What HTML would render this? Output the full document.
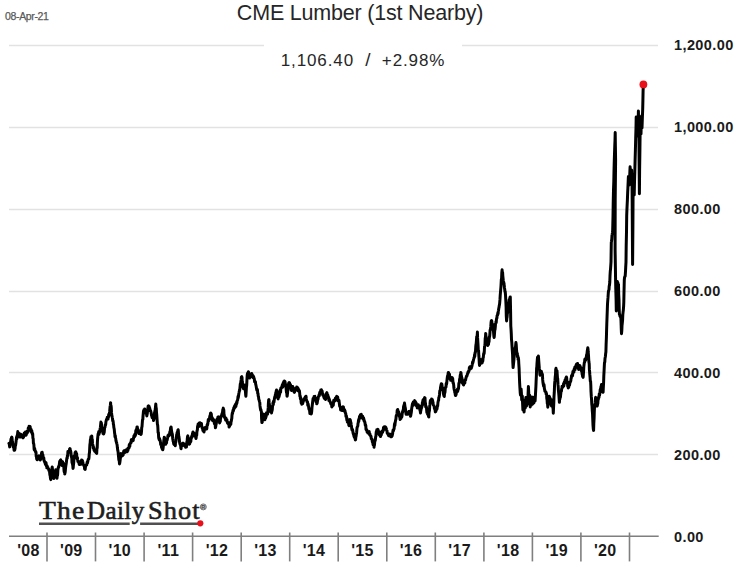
<!DOCTYPE html>
<html><head><meta charset="utf-8"><style>
html,body{margin:0;padding:0;background:#fff;}
body{width:739px;height:575px;position:relative;overflow:hidden;font-family:"Liberation Sans",sans-serif;}
.date{position:absolute;left:5px;top:9.6px;font-size:10.5px;color:#595959;letter-spacing:-0.35px;-webkit-text-stroke:0.25px #595959;}
.title{position:absolute;left:0;width:720px;text-align:center;top:1px;font-size:21.5px;letter-spacing:-0.2px;color:#262626;}
.sub{position:absolute;left:0;width:726px;text-align:center;top:49.5px;font-size:17px;line-height:20px;letter-spacing:0.9px;color:#262626;}
.yl{position:absolute;left:674px;font-size:14.5px;font-weight:bold;color:#1a1a1a;letter-spacing:0.4px;line-height:18px;}
.xl{position:absolute;top:541.5px;width:40px;text-align:center;font-size:16px;letter-spacing:0.3px;font-weight:bold;color:#1a1a1a;line-height:18px;}
.lw{position:absolute;top:495.5px;font-family:"Liberation Serif",serif;font-size:25px;font-weight:normal;-webkit-text-stroke:0.6px #1e1e1e;letter-spacing:1.1px;color:#1e1e1e;line-height:30px;white-space:nowrap;}
.reg{position:absolute;left:198px;top:500px;font-family:"Liberation Sans",sans-serif;font-size:10px;color:#777;}
svg{position:absolute;left:0;top:0;}
</style></head><body>
<svg width="739" height="575" viewBox="0 0 739 575">
<g stroke="#e2e2e2" stroke-width="1.4"><line x1="9" y1="127.5" x2="658" y2="127.5"/><line x1="9" y1="209.5" x2="658" y2="209.5"/><line x1="9" y1="291.5" x2="658" y2="291.5"/><line x1="9" y1="372.5" x2="658" y2="372.5"/><line x1="9" y1="454.5" x2="658" y2="454.5"/><line x1="9" y1="45.5" x2="264" y2="45.5"/><line x1="462" y1="45.5" x2="658" y2="45.5"/></g>
<g stroke="#7f7f7f" stroke-width="1.6"><line x1="9" y1="536.2" x2="658.7" y2="536.2"/><line x1="47.0" y1="532.5" x2="47.0" y2="561.4"/><line x1="95.5" y1="532.5" x2="95.5" y2="561.4"/><line x1="144.1" y1="532.5" x2="144.1" y2="561.4"/><line x1="192.6" y1="532.5" x2="192.6" y2="561.4"/><line x1="241.2" y1="532.5" x2="241.2" y2="561.4"/><line x1="289.7" y1="532.5" x2="289.7" y2="561.4"/><line x1="338.2" y1="532.5" x2="338.2" y2="561.4"/><line x1="386.8" y1="532.5" x2="386.8" y2="561.4"/><line x1="435.3" y1="532.5" x2="435.3" y2="561.4"/><line x1="483.9" y1="532.5" x2="483.9" y2="561.4"/><line x1="532.4" y1="532.5" x2="532.4" y2="561.4"/><line x1="580.9" y1="532.5" x2="580.9" y2="561.4"/><line x1="629.5" y1="532.5" x2="629.5" y2="561.4"/></g>
<path d="M9.0,443.4 L9.2,443.6 L9.5,445.9 L9.7,446.9 L10.0,445.2 L10.2,444.8 L10.5,443.7 L10.8,440.4 L11.0,439.0 L11.3,440.8 L11.5,437.5 L11.8,437.1 L12.0,437.7 L12.3,441.9 L12.5,441.5 L12.7,444.4 L13.0,444.6 L13.2,446.2 L13.4,447.4 L13.7,446.3 L13.9,448.7 L14.1,450.3 L14.4,449.7 L14.6,450.3 L14.8,449.8 L15.1,448.2 L15.3,444.6 L15.5,445.7 L15.8,443.7 L16.0,442.0 L16.3,439.8 L16.5,437.3 L16.8,438.9 L17.0,436.0 L17.3,435.4 L17.5,434.4 L17.8,431.6 L18.0,433.0 L18.3,434.3 L18.5,433.0 L18.8,435.0 L19.0,434.3 L19.3,436.7 L19.5,435.7 L19.8,437.0 L20.0,434.1 L20.3,434.1 L20.6,434.3 L20.8,436.9 L21.1,434.9 L21.3,435.5 L21.6,435.0 L21.8,434.8 L22.1,436.0 L22.3,436.0 L22.5,436.3 L22.8,437.6 L23.0,437.8 L23.3,437.1 L23.5,437.3 L23.8,435.6 L24.0,435.5 L24.3,433.0 L24.6,434.4 L24.8,434.9 L25.1,433.9 L25.4,432.1 L25.6,434.7 L25.9,435.2 L26.1,435.1 L26.4,433.7 L26.6,433.5 L26.9,433.5 L27.1,431.3 L27.3,433.0 L27.6,431.6 L27.8,430.9 L28.1,429.5 L28.3,428.0 L28.6,430.2 L28.8,430.1 L29.1,426.2 L29.3,428.1 L29.6,426.4 L29.8,426.8 L30.1,426.6 L30.3,427.9 L30.6,430.3 L30.8,431.5 L31.1,429.2 L31.3,431.6 L31.5,432.4 L31.8,430.7 L32.0,433.4 L32.2,432.4 L32.5,434.7 L32.7,433.7 L32.9,438.0 L33.2,438.8 L33.4,443.1 L33.6,443.2 L33.9,444.9 L34.1,449.0 L34.3,449.8 L34.6,448.2 L34.8,449.3 L35.0,450.5 L35.3,451.6 L35.5,451.7 L35.7,451.6 L36.0,452.4 L36.2,456.5 L36.4,455.7 L36.7,459.2 L36.9,458.7 L37.2,459.8 L37.4,457.6 L37.7,457.5 L38.0,457.4 L38.2,457.5 L38.5,456.9 L38.7,456.5 L39.0,455.9 L39.3,457.2 L39.5,459.1 L39.8,458.4 L40.0,458.9 L40.3,460.0 L40.5,459.5 L40.8,456.5 L41.0,455.5 L41.2,456.7 L41.5,453.7 L41.7,452.4 L41.9,453.4 L42.2,452.3 L42.4,454.5 L42.6,456.0 L42.9,454.8 L43.1,457.3 L43.3,458.4 L43.6,459.2 L43.8,457.8 L44.0,460.6 L44.3,460.7 L44.5,461.5 L44.8,462.7 L45.0,462.0 L45.3,463.8 L45.5,464.5 L45.8,462.4 L46.1,463.1 L46.3,465.8 L46.6,465.7 L46.8,467.8 L47.1,465.7 L47.3,466.9 L47.5,467.8 L47.8,467.3 L48.0,468.4 L48.2,468.4 L48.5,468.7 L48.7,469.3 L48.9,470.6 L49.2,470.0 L49.4,471.2 L49.6,472.2 L49.9,475.0 L50.1,473.7 L50.3,477.0 L50.6,479.0 L50.8,479.6 L51.0,476.8 L51.3,474.4 L51.5,474.4 L51.7,470.3 L52.0,468.0 L52.2,467.0 L52.4,468.6 L52.7,471.4 L52.9,471.2 L53.1,473.8 L53.4,475.7 L53.6,478.2 L53.9,478.4 L54.1,475.9 L54.4,476.3 L54.7,472.8 L54.9,472.4 L55.2,472.4 L55.4,472.2 L55.7,469.8 L56.0,471.3 L56.2,472.2 L56.5,473.5 L56.7,476.6 L57.0,478.2 L57.2,475.2 L57.5,475.6 L57.7,473.8 L57.9,469.6 L58.2,468.1 L58.4,467.0 L58.7,467.2 L58.9,465.8 L59.2,465.5 L59.5,462.9 L59.7,461.3 L60.0,461.0 L60.2,461.9 L60.5,460.0 L60.7,459.9 L61.0,460.9 L61.2,461.9 L61.4,462.6 L61.7,463.3 L61.9,464.3 L62.1,465.6 L62.4,462.6 L62.6,461.8 L62.8,465.0 L63.1,464.5 L63.3,462.9 L63.5,466.5 L63.8,466.4 L64.0,470.1 L64.2,471.8 L64.5,471.1 L64.7,474.0 L64.9,473.3 L65.2,472.0 L65.4,469.7 L65.6,467.6 L65.9,465.2 L66.1,464.3 L66.4,462.2 L66.6,460.2 L66.9,458.0 L67.2,458.3 L67.4,455.7 L67.7,456.0 L67.9,451.6 L68.2,451.7 L68.4,452.7 L68.7,451.5 L68.9,451.9 L69.1,451.3 L69.4,450.9 L69.6,449.0 L69.8,450.0 L70.1,448.6 L70.3,451.9 L70.5,450.6 L70.8,451.7 L71.0,453.1 L71.2,455.6 L71.5,457.0 L71.8,458.5 L72.0,462.3 L72.2,463.1 L72.5,464.0 L72.8,465.6 L73.0,468.4 L73.2,467.6 L73.5,464.2 L73.7,463.2 L73.9,459.5 L74.2,456.9 L74.4,455.9 L74.6,455.3 L74.9,455.6 L75.1,452.6 L75.3,454.2 L75.6,453.9 L75.8,451.7 L76.1,454.0 L76.3,455.3 L76.6,453.6 L76.8,457.1 L77.1,459.1 L77.4,457.4 L77.6,459.5 L77.9,461.5 L78.2,461.0 L78.4,462.3 L78.7,462.3 L79.0,462.9 L79.2,464.4 L79.5,462.0 L79.7,462.5 L80.0,464.5 L80.3,462.6 L80.5,462.1 L80.8,461.4 L81.0,464.2 L81.3,463.2 L81.6,459.9 L81.8,460.9 L82.1,460.4 L82.4,460.6 L82.6,461.4 L82.9,462.3 L83.1,464.2 L83.4,464.8 L83.6,464.8 L83.9,465.0 L84.1,466.3 L84.4,466.4 L84.6,468.8 L84.9,469.4 L85.2,469.4 L85.4,467.4 L85.7,465.6 L86.0,465.1 L86.2,465.1 L86.5,465.1 L86.7,465.0 L87.0,463.2 L87.2,462.1 L87.5,462.9 L87.8,461.5 L88.0,460.2 L88.2,459.2 L88.5,459.0 L88.8,459.0 L89.0,457.6 L89.2,454.3 L89.5,452.3 L89.7,448.4 L89.9,444.6 L90.2,442.6 L90.4,439.5 L90.6,439.6 L90.9,436.8 L91.1,437.5 L91.3,436.9 L91.6,438.0 L91.8,436.0 L92.0,439.6 L92.3,439.5 L92.5,443.4 L92.7,445.0 L93.0,445.1 L93.2,447.9 L93.5,448.1 L93.7,447.2 L94.0,450.1 L94.2,449.9 L94.5,451.0 L94.8,451.1 L95.0,451.0 L95.3,450.7 L95.5,452.0 L95.8,451.8 L96.0,450.6 L96.2,452.8 L96.5,451.2 L96.7,453.4 L96.9,448.9 L97.2,447.9 L97.4,442.1 L97.6,439.0 L97.9,435.8 L98.1,434.0 L98.3,435.1 L98.6,432.4 L98.8,431.6 L99.0,434.3 L99.3,431.5 L99.5,432.6 L99.7,432.1 L100.0,429.7 L100.2,428.6 L100.4,427.2 L100.7,424.1 L100.9,422.1 L101.1,424.5 L101.4,423.0 L101.6,426.9 L101.8,427.3 L102.1,429.3 L102.3,429.8 L102.5,429.1 L102.8,432.1 L103.0,433.5 L103.2,431.0 L103.5,432.7 L103.7,434.0 L104.0,432.8 L104.2,432.4 L104.5,428.9 L104.7,427.2 L105.0,427.0 L105.2,424.9 L105.5,425.1 L105.7,424.4 L105.9,422.0 L106.2,420.7 L106.4,420.0 L106.6,419.3 L106.9,418.8 L107.1,418.7 L107.3,417.2 L107.6,418.3 L107.8,418.0 L108.0,419.1 L108.3,416.5 L108.5,417.1 L108.7,414.4 L109.0,415.8 L109.2,414.5 L109.4,413.5 L109.7,411.2 L109.9,408.7 L110.1,406.6 L110.4,405.2 L110.6,402.7 L110.8,406.3 L111.1,405.8 L111.3,407.8 L111.5,412.4 L111.8,415.2 L112.0,415.9 L112.2,417.3 L112.5,418.5 L112.7,420.8 L112.9,420.3 L113.2,422.0 L113.4,424.2 L113.6,424.8 L113.9,427.8 L114.1,428.4 L114.3,429.8 L114.6,433.1 L114.8,434.0 L115.0,436.8 L115.3,435.6 L115.5,438.2 L115.7,438.3 L116.0,441.0 L116.2,440.9 L116.4,442.6 L116.7,442.9 L116.9,444.1 L117.1,444.8 L117.4,447.8 L117.6,449.3 L117.8,450.7 L118.1,451.8 L118.3,454.3 L118.5,456.1 L118.8,459.5 L119.0,460.4 L119.2,460.1 L119.5,464.0 L119.7,463.2 L120.0,461.2 L120.2,459.6 L120.5,457.2 L120.7,456.6 L121.0,453.4 L121.2,454.8 L121.5,454.1 L121.7,454.0 L121.9,455.1 L122.2,455.9 L122.4,454.8 L122.7,453.9 L122.9,454.6 L123.2,454.9 L123.5,452.6 L123.7,451.3 L124.0,450.8 L124.2,452.0 L124.5,450.7 L124.8,451.4 L125.0,452.5 L125.3,452.2 L125.5,450.1 L125.8,450.0 L126.1,450.3 L126.3,450.1 L126.6,451.3 L126.9,451.6 L127.1,451.7 L127.4,451.5 L127.6,448.7 L127.9,450.5 L128.2,448.1 L128.4,448.0 L128.7,447.9 L129.0,448.0 L129.2,445.0 L129.5,444.3 L129.8,446.3 L130.0,443.7 L130.3,443.2 L130.5,443.3 L130.8,442.3 L131.1,442.6 L131.3,439.8 L131.6,440.7 L131.9,440.7 L132.1,440.5 L132.4,439.2 L132.6,440.2 L132.9,439.5 L133.2,440.6 L133.4,438.1 L133.7,438.1 L133.9,436.0 L134.2,436.1 L134.5,436.9 L134.7,434.4 L135.0,435.3 L135.2,435.7 L135.5,434.7 L135.8,430.7 L136.0,432.7 L136.2,429.7 L136.5,430.1 L136.8,429.0 L137.0,427.0 L137.3,427.0 L137.5,429.0 L137.8,429.7 L138.1,430.9 L138.3,429.7 L138.6,432.1 L138.8,433.6 L139.1,432.6 L139.4,433.4 L139.6,433.1 L139.9,431.7 L140.1,433.3 L140.4,432.9 L140.7,434.4 L140.9,434.5 L141.2,434.0 L141.5,431.6 L141.7,427.6 L142.0,426.7 L142.2,424.0 L142.5,419.8 L142.8,419.7 L143.0,416.3 L143.3,413.1 L143.5,411.0 L143.8,413.3 L144.0,409.7 L144.2,409.7 L144.5,410.4 L144.7,408.9 L145.0,410.1 L145.2,410.8 L145.5,412.1 L145.8,412.2 L146.0,412.6 L146.3,413.0 L146.5,413.5 L146.8,415.9 L147.0,415.0 L147.3,413.5 L147.5,411.2 L147.7,410.2 L148.0,407.2 L148.2,406.1 L148.5,405.8 L148.7,406.7 L149.0,409.0 L149.2,406.6 L149.5,408.7 L149.8,408.3 L150.0,410.7 L150.3,410.3 L150.6,410.6 L150.8,411.4 L151.1,412.6 L151.3,413.9 L151.6,415.7 L151.8,415.0 L152.1,417.7 L152.3,417.3 L152.5,416.4 L152.8,417.4 L153.0,417.2 L153.2,417.7 L153.5,420.6 L153.7,420.0 L154.0,418.8 L154.2,414.9 L154.5,412.9 L154.8,411.7 L155.0,410.9 L155.3,409.1 L155.5,406.9 L155.8,404.0 L156.0,407.2 L156.3,408.5 L156.5,412.3 L156.7,414.5 L157.0,418.6 L157.2,421.4 L157.4,424.2 L157.7,425.4 L157.9,428.2 L158.1,432.6 L158.4,432.5 L158.6,436.7 L158.8,438.3 L159.1,439.2 L159.3,440.0 L159.5,438.5 L159.8,439.6 L160.0,440.0 L160.2,441.2 L160.5,442.4 L160.7,444.6 L160.9,444.5 L161.2,444.0 L161.4,445.7 L161.6,447.7 L161.9,447.0 L162.1,448.1 L162.3,449.2 L162.6,447.3 L162.8,449.8 L163.0,448.7 L163.3,446.2 L163.5,443.5 L163.7,441.6 L164.0,439.2 L164.2,437.3 L164.4,437.4 L164.7,439.7 L164.9,439.1 L165.1,442.0 L165.4,443.7 L165.6,444.3 L165.9,443.2 L166.1,442.8 L166.4,443.3 L166.6,442.2 L166.9,438.6 L167.2,440.1 L167.4,438.6 L167.7,437.3 L168.0,435.4 L168.2,436.2 L168.5,435.5 L168.7,434.7 L169.0,435.9 L169.3,434.9 L169.5,435.2 L169.8,431.9 L170.1,432.7 L170.3,431.0 L170.6,427.8 L170.8,429.3 L171.1,426.9 L171.3,428.8 L171.6,431.4 L171.8,432.2 L172.0,433.8 L172.3,433.8 L172.5,435.9 L172.7,438.4 L173.0,440.3 L173.2,441.4 L173.4,441.3 L173.7,443.8 L173.9,444.3 L174.1,444.5 L174.4,443.4 L174.6,443.4 L174.8,443.7 L175.1,444.4 L175.3,445.7 L175.5,442.6 L175.8,442.0 L176.0,440.8 L176.2,438.4 L176.5,436.1 L176.7,434.5 L176.9,434.2 L177.2,432.2 L177.4,432.0 L177.6,432.2 L177.9,430.1 L178.1,429.7 L178.3,430.5 L178.6,435.1 L178.8,436.4 L179.0,437.1 L179.3,439.1 L179.5,441.5 L179.7,442.8 L180.0,444.1 L180.2,444.0 L180.4,444.3 L180.7,446.2 L180.9,448.4 L181.1,448.7 L181.4,445.7 L181.6,446.2 L181.8,444.6 L182.1,443.9 L182.3,444.3 L182.6,443.3 L182.8,444.3 L183.1,443.6 L183.3,443.3 L183.6,443.8 L183.8,444.2 L184.1,445.5 L184.3,445.7 L184.6,444.3 L184.8,444.3 L185.1,446.0 L185.4,446.0 L185.6,447.2 L185.9,445.1 L186.1,446.5 L186.4,447.0 L186.6,444.8 L186.9,441.6 L187.1,443.1 L187.3,438.6 L187.6,436.3 L187.8,435.9 L188.0,437.2 L188.3,437.5 L188.5,440.5 L188.7,440.9 L189.0,441.5 L189.2,444.3 L189.5,442.0 L189.7,443.7 L190.0,441.4 L190.2,442.5 L190.5,440.7 L190.8,441.7 L191.0,438.7 L191.3,438.7 L191.5,436.9 L191.8,436.0 L192.0,437.0 L192.2,435.4 L192.5,433.5 L192.7,433.1 L193.0,432.0 L193.2,434.5 L193.5,435.8 L193.8,434.8 L194.0,433.1 L194.3,433.5 L194.5,434.1 L194.8,435.9 L195.0,434.9 L195.3,434.7 L195.5,435.0 L195.7,437.4 L196.0,438.5 L196.2,437.3 L196.4,434.4 L196.7,435.3 L196.9,431.7 L197.1,431.0 L197.4,429.6 L197.6,426.2 L197.8,427.6 L198.1,424.1 L198.3,424.8 L198.5,425.7 L198.8,426.6 L199.0,424.8 L199.2,423.1 L199.5,423.7 L199.8,425.5 L200.0,422.7 L200.2,423.5 L200.5,423.2 L200.8,424.2 L201.0,423.4 L201.2,425.6 L201.5,423.6 L201.7,426.4 L201.9,427.0 L202.2,428.1 L202.4,427.6 L202.6,428.5 L202.9,430.5 L203.1,429.2 L203.3,430.0 L203.6,430.0 L203.8,431.7 L204.0,432.0 L204.3,430.3 L204.5,428.8 L204.7,427.8 L205.0,429.1 L205.2,427.6 L205.4,428.2 L205.7,428.8 L205.9,427.9 L206.1,428.5 L206.4,427.5 L206.6,429.0 L206.8,428.6 L207.1,424.9 L207.3,425.4 L207.5,425.3 L207.8,423.8 L208.0,422.0 L208.3,419.7 L208.5,419.4 L208.8,420.8 L209.0,419.2 L209.3,419.3 L209.5,418.4 L209.8,416.1 L210.0,416.9 L210.3,415.5 L210.5,413.2 L210.8,413.0 L211.0,413.7 L211.3,413.8 L211.5,416.1 L211.7,419.2 L212.0,417.3 L212.2,419.9 L212.4,420.3 L212.7,418.7 L212.9,418.7 L213.1,420.9 L213.4,419.5 L213.6,420.6 L213.9,419.8 L214.1,420.9 L214.4,423.5 L214.6,424.1 L214.9,422.8 L215.2,424.4 L215.4,427.8 L215.7,426.9 L216.0,424.4 L216.2,424.0 L216.5,422.0 L216.7,421.8 L217.0,419.2 L217.2,419.3 L217.5,419.8 L217.7,418.6 L217.9,417.1 L218.2,416.9 L218.4,417.8 L218.6,417.0 L218.9,420.4 L219.1,418.5 L219.3,418.9 L219.6,423.0 L219.8,422.0 L220.0,420.0 L220.3,421.5 L220.5,417.7 L220.7,418.1 L221.0,416.3 L221.2,416.4 L221.5,416.5 L221.7,414.7 L222.0,413.8 L222.2,413.2 L222.5,412.6 L222.8,409.6 L223.0,409.5 L223.3,408.1 L223.5,409.5 L223.8,409.9 L224.0,414.2 L224.2,414.9 L224.5,417.3 L224.7,417.8 L224.9,417.1 L225.2,418.6 L225.4,418.7 L225.6,420.0 L225.9,418.0 L226.1,419.9 L226.4,419.8 L226.6,420.7 L226.9,419.7 L227.1,421.8 L227.4,422.9 L227.7,422.2 L227.9,423.5 L228.2,423.4 L228.4,424.2 L228.7,423.3 L228.9,424.3 L229.1,427.1 L229.4,425.1 L229.6,426.2 L229.8,425.3 L230.1,423.3 L230.3,423.1 L230.5,422.2 L230.8,424.3 L231.0,422.0 L231.3,421.0 L231.5,419.7 L231.8,418.4 L232.0,415.2 L232.3,413.0 L232.5,413.7 L232.8,411.5 L233.0,410.3 L233.2,411.3 L233.5,410.4 L233.7,408.1 L233.9,409.3 L234.2,407.1 L234.4,407.7 L234.6,405.9 L234.9,407.6 L235.1,405.3 L235.4,406.7 L235.6,404.2 L235.9,406.4 L236.1,403.5 L236.4,404.5 L236.7,402.0 L236.9,403.2 L237.2,400.6 L237.4,400.4 L237.7,399.8 L238.0,396.6 L238.2,398.1 L238.5,396.2 L238.8,393.8 L239.0,392.8 L239.3,391.0 L239.6,390.8 L239.8,389.3 L240.1,386.1 L240.3,383.8 L240.6,383.7 L240.9,381.2 L241.1,379.9 L241.4,376.9 L241.7,376.7 L242.0,377.3 L242.2,381.3 L242.5,383.0 L242.8,385.8 L243.0,387.7 L243.3,387.8 L243.5,388.7 L243.8,386.4 L244.0,385.2 L244.2,385.3 L244.5,385.3 L244.7,385.0 L244.9,387.3 L245.2,389.6 L245.4,391.2 L245.7,395.2 L245.9,396.2 L246.2,391.2 L246.4,387.7 L246.7,385.1 L246.9,380.6 L247.2,375.3 L247.4,373.9 L247.7,373.0 L247.9,374.3 L248.2,372.5 L248.4,371.7 L248.7,373.0 L248.9,375.4 L249.1,376.4 L249.4,376.0 L249.6,378.1 L249.8,375.8 L250.1,375.6 L250.3,377.0 L250.5,375.2 L250.8,376.3 L251.0,373.9 L251.2,375.4 L251.5,376.6 L251.7,373.6 L251.9,374.6 L252.2,374.5 L252.4,376.7 L252.6,376.7 L252.9,376.6 L253.1,375.8 L253.3,377.8 L253.6,376.4 L253.8,378.1 L254.1,378.3 L254.3,378.9 L254.6,381.8 L254.9,381.3 L255.1,381.5 L255.4,381.6 L255.6,383.9 L255.9,385.0 L256.2,386.5 L256.4,387.7 L256.7,389.6 L256.9,390.3 L257.2,389.3 L257.5,390.0 L257.7,393.3 L258.0,393.4 L258.2,396.0 L258.5,396.6 L258.8,399.3 L259.0,399.8 L259.2,400.4 L259.5,401.6 L259.8,402.6 L260.0,405.9 L260.2,407.3 L260.5,409.2 L260.7,410.2 L260.9,409.5 L261.2,411.2 L261.4,411.5 L261.6,418.6 L261.9,422.6 L262.2,422.3 L262.4,420.2 L262.7,418.1 L263.0,417.1 L263.2,414.5 L263.5,414.3 L263.7,414.1 L264.0,416.8 L264.2,418.8 L264.4,418.1 L264.7,418.6 L264.9,419.8 L265.1,418.4 L265.4,417.8 L265.6,418.1 L265.8,416.0 L266.1,416.9 L266.3,414.3 L266.5,412.8 L266.8,413.2 L267.0,413.7 L267.2,413.0 L267.5,414.4 L267.7,412.9 L267.9,410.8 L268.2,407.9 L268.4,403.4 L268.7,399.7 L268.9,399.5 L269.2,403.0 L269.4,404.4 L269.6,405.7 L269.9,406.4 L270.1,408.7 L270.3,410.2 L270.6,411.6 L270.8,409.4 L271.0,412.1 L271.3,411.7 L271.5,412.9 L271.8,411.3 L272.0,411.0 L272.3,409.5 L272.5,406.7 L272.8,404.5 L273.0,402.7 L273.3,404.6 L273.5,401.3 L273.7,401.3 L274.0,402.2 L274.2,400.3 L274.5,398.3 L274.8,396.7 L275.0,397.8 L275.3,394.8 L275.5,395.7 L275.8,392.7 L276.0,392.3 L276.2,391.2 L276.5,390.0 L276.7,390.6 L276.9,391.1 L277.2,395.1 L277.4,393.3 L277.6,395.2 L277.9,396.5 L278.1,399.0 L278.3,396.6 L278.6,397.3 L278.8,397.2 L279.1,396.6 L279.3,395.0 L279.6,394.7 L279.8,392.7 L280.1,390.2 L280.3,390.5 L280.6,392.3 L280.8,388.3 L281.1,388.4 L281.3,388.4 L281.6,387.8 L281.8,386.5 L282.1,387.0 L282.3,384.8 L282.5,385.0 L282.8,387.1 L283.0,385.0 L283.2,383.0 L283.5,385.1 L283.7,381.8 L283.9,384.0 L284.2,382.2 L284.4,380.9 L284.6,382.3 L284.9,381.4 L285.1,382.0 L285.3,385.5 L285.6,384.3 L285.8,386.4 L286.0,386.9 L286.3,390.8 L286.5,392.6 L286.7,391.3 L287.0,396.2 L287.2,396.2 L287.4,394.2 L287.7,391.6 L287.9,388.5 L288.1,387.5 L288.4,387.5 L288.6,383.7 L288.8,383.0 L289.1,382.6 L289.3,382.7 L289.5,382.8 L289.8,383.7 L290.0,384.3 L290.3,386.8 L290.5,384.7 L290.8,386.1 L291.0,389.8 L291.3,389.2 L291.5,390.5 L291.8,390.0 L292.0,386.9 L292.2,386.8 L292.5,388.5 L292.7,386.4 L292.9,387.3 L293.2,389.0 L293.4,388.5 L293.6,388.4 L293.9,390.5 L294.1,392.0 L294.4,392.4 L294.6,392.0 L294.9,390.7 L295.1,389.8 L295.4,389.5 L295.7,388.6 L295.9,388.4 L296.2,387.8 L296.5,389.2 L296.7,387.1 L297.0,388.7 L297.2,390.1 L297.5,389.9 L297.8,387.7 L298.0,390.7 L298.3,389.2 L298.5,391.1 L298.8,389.4 L299.0,390.5 L299.2,390.9 L299.5,391.1 L299.7,393.4 L299.9,396.5 L300.2,395.8 L300.4,398.9 L300.6,397.5 L300.9,398.6 L301.1,401.7 L301.3,403.3 L301.6,403.2 L301.8,404.2 L302.0,403.3 L302.3,403.0 L302.5,403.1 L302.7,403.6 L303.0,400.7 L303.2,401.8 L303.4,401.0 L303.7,399.5 L303.9,400.3 L304.2,400.1 L304.4,398.6 L304.7,398.8 L304.9,397.8 L305.2,397.1 L305.5,396.7 L305.7,397.1 L306.0,396.2 L306.3,399.0 L306.5,400.0 L306.8,400.8 L307.0,401.8 L307.3,401.7 L307.5,401.9 L307.8,405.3 L308.0,403.7 L308.2,404.1 L308.5,406.4 L308.7,407.3 L308.9,409.1 L309.2,408.6 L309.4,410.6 L309.6,410.2 L309.9,413.6 L310.1,412.9 L310.4,413.0 L310.6,413.4 L310.9,413.8 L311.2,414.0 L311.5,413.1 L311.7,411.3 L312.0,407.4 L312.3,404.9 L312.5,403.3 L312.8,400.6 L313.1,398.5 L313.3,399.3 L313.6,400.3 L313.9,399.5 L314.1,396.4 L314.4,398.7 L314.6,396.5 L314.9,396.4 L315.2,399.0 L315.4,397.7 L315.7,398.0 L315.9,400.1 L316.2,402.2 L316.5,401.4 L316.7,403.8 L317.0,403.4 L317.2,403.1 L317.5,400.8 L317.8,399.5 L318.0,399.2 L318.2,397.8 L318.5,396.6 L318.8,396.6 L319.0,395.0 L319.3,395.8 L319.5,394.3 L319.8,392.2 L320.1,391.9 L320.3,392.0 L320.6,392.3 L320.8,390.1 L321.1,390.9 L321.4,389.8 L321.6,391.1 L321.9,391.4 L322.1,390.9 L322.4,393.2 L322.7,395.0 L322.9,394.0 L323.2,394.3 L323.5,395.8 L323.7,396.7 L324.0,397.4 L324.2,398.2 L324.5,397.2 L324.8,398.6 L325.0,397.2 L325.3,399.2 L325.5,399.5 L325.8,396.7 L326.0,396.0 L326.2,396.5 L326.5,393.3 L326.7,393.0 L326.9,392.7 L327.2,395.8 L327.4,395.8 L327.6,394.7 L327.9,395.3 L328.1,397.8 L328.4,397.8 L328.6,397.1 L328.9,400.6 L329.1,398.8 L329.4,399.6 L329.7,400.5 L329.9,401.5 L330.2,402.0 L330.5,402.3 L330.7,403.5 L331.0,404.2 L331.2,403.9 L331.5,403.2 L331.8,406.9 L332.0,406.4 L332.3,406.2 L332.6,404.0 L332.8,404.6 L333.1,405.0 L333.3,405.2 L333.6,401.1 L333.8,400.2 L334.1,401.2 L334.3,400.6 L334.6,399.9 L334.8,401.1 L335.1,400.5 L335.4,398.2 L335.6,398.1 L335.9,398.3 L336.1,398.9 L336.4,397.1 L336.7,396.4 L336.9,397.4 L337.2,396.7 L337.4,399.0 L337.7,397.1 L338.0,400.8 L338.2,399.6 L338.5,399.9 L338.7,401.2 L339.0,400.5 L339.2,402.1 L339.4,404.0 L339.7,406.4 L339.9,406.2 L340.1,407.0 L340.4,406.8 L340.6,410.0 L340.8,409.5 L341.1,409.7 L341.3,410.3 L341.6,408.8 L341.8,408.7 L342.1,410.5 L342.4,407.3 L342.6,408.3 L342.9,408.2 L343.1,406.8 L343.4,406.9 L343.6,408.7 L343.9,410.0 L344.1,410.6 L344.3,411.0 L344.6,409.8 L344.8,411.7 L345.0,410.8 L345.3,412.9 L345.5,413.1 L345.7,413.4 L346.0,416.5 L346.2,415.9 L346.4,415.8 L346.7,418.9 L346.9,420.3 L347.1,418.3 L347.4,422.1 L347.6,421.5 L347.8,421.8 L348.1,421.9 L348.3,422.5 L348.5,422.6 L348.8,425.0 L349.0,425.7 L349.3,424.2 L349.5,424.7 L349.8,423.5 L350.0,419.6 L350.3,420.1 L350.5,421.1 L350.8,422.5 L351.0,423.1 L351.2,424.7 L351.5,426.2 L351.7,428.4 L352.0,430.0 L352.2,429.6 L352.5,429.6 L352.8,430.9 L353.0,432.6 L353.3,433.9 L353.5,433.6 L353.8,435.4 L354.1,436.7 L354.3,435.6 L354.6,437.8 L354.8,438.2 L355.1,437.2 L355.3,439.9 L355.6,439.6 L355.8,437.4 L356.1,436.1 L356.3,434.6 L356.6,432.9 L356.8,430.4 L357.1,427.2 L357.3,427.0 L357.5,426.8 L357.8,425.9 L358.0,423.4 L358.3,422.5 L358.5,420.2 L358.8,421.3 L359.0,418.7 L359.3,418.8 L359.5,416.5 L359.8,418.0 L360.0,418.1 L360.3,415.1 L360.5,416.9 L360.8,414.5 L361.0,414.9 L361.3,414.3 L361.5,416.7 L361.7,415.8 L362.0,417.7 L362.2,417.3 L362.4,417.7 L362.7,416.1 L362.9,417.8 L363.1,419.0 L363.4,417.8 L363.6,418.0 L363.8,419.0 L364.1,420.9 L364.3,420.3 L364.5,421.2 L364.8,422.4 L365.0,422.9 L365.3,425.4 L365.5,424.6 L365.8,425.6 L366.0,429.4 L366.3,429.8 L366.6,430.3 L366.8,429.6 L367.1,432.0 L367.4,432.2 L367.6,431.3 L367.9,433.1 L368.1,432.8 L368.4,431.9 L368.7,433.2 L368.9,432.0 L369.2,431.5 L369.4,434.3 L369.7,434.9 L370.0,434.0 L370.2,434.9 L370.5,435.4 L370.8,436.5 L371.0,436.2 L371.3,438.7 L371.6,439.1 L371.8,439.3 L372.1,439.2 L372.3,441.6 L372.6,442.3 L372.8,442.5 L373.1,444.7 L373.3,443.6 L373.5,445.2 L373.8,445.3 L374.0,447.2 L374.2,445.6 L374.5,444.9 L374.7,442.0 L374.9,440.5 L375.2,440.8 L375.4,439.6 L375.6,436.9 L375.9,436.4 L376.1,433.5 L376.3,431.6 L376.6,431.6 L376.8,429.8 L377.0,431.6 L377.3,431.6 L377.5,430.6 L377.7,430.4 L378.0,429.4 L378.2,431.2 L378.4,430.9 L378.7,431.5 L378.9,434.2 L379.1,431.7 L379.4,435.1 L379.6,434.0 L379.8,434.1 L380.1,434.2 L380.3,433.8 L380.5,436.6 L380.8,434.0 L381.0,435.4 L381.3,434.8 L381.5,433.8 L381.8,431.8 L382.0,431.0 L382.3,431.2 L382.5,432.5 L382.8,431.3 L383.0,430.6 L383.2,430.8 L383.5,427.4 L383.7,428.4 L383.9,428.9 L384.2,428.8 L384.4,426.7 L384.6,427.3 L384.9,428.9 L385.1,427.0 L385.3,426.8 L385.6,428.9 L385.8,427.2 L386.0,429.5 L386.3,428.5 L386.5,429.8 L386.7,430.5 L387.0,430.7 L387.2,433.2 L387.4,433.5 L387.7,433.3 L387.9,434.0 L388.2,434.9 L388.4,434.2 L388.7,435.8 L388.9,434.0 L389.2,435.1 L389.5,435.4 L389.7,435.8 L390.0,435.2 L390.2,434.2 L390.5,434.8 L390.8,436.7 L391.0,435.3 L391.3,436.5 L391.6,436.7 L391.8,435.1 L392.1,436.1 L392.3,435.0 L392.6,433.9 L392.8,431.9 L393.1,430.0 L393.3,431.0 L393.6,430.0 L393.8,429.4 L394.1,428.8 L394.4,425.0 L394.6,423.6 L394.9,425.4 L395.1,423.3 L395.4,421.2 L395.7,419.8 L395.9,419.3 L396.2,415.8 L396.4,415.8 L396.7,414.9 L397.0,413.2 L397.2,410.3 L397.5,410.1 L397.7,409.5 L398.0,411.9 L398.2,413.6 L398.4,411.6 L398.7,411.8 L398.9,414.3 L399.1,413.5 L399.4,416.7 L399.6,416.0 L399.8,416.9 L400.1,419.5 L400.3,418.4 L400.5,418.6 L400.8,417.1 L401.0,418.4 L401.2,415.7 L401.5,416.4 L401.7,417.0 L401.9,416.6 L402.2,413.5 L402.4,411.9 L402.6,412.5 L402.9,410.6 L403.1,410.1 L403.3,410.6 L403.6,406.3 L403.8,407.7 L404.0,405.0 L404.3,405.4 L404.5,403.1 L404.7,404.5 L405.0,407.0 L405.2,407.4 L405.4,408.6 L405.7,411.1 L405.9,412.9 L406.1,414.2 L406.4,412.8 L406.6,412.6 L406.8,413.5 L407.1,412.6 L407.3,414.3 L407.6,413.5 L407.8,414.2 L408.1,413.9 L408.3,414.0 L408.6,412.7 L408.8,411.5 L409.1,411.4 L409.3,412.9 L409.5,412.8 L409.8,412.7 L410.0,414.5 L410.2,413.9 L410.5,416.2 L410.7,415.7 L410.9,414.4 L411.2,413.0 L411.4,411.6 L411.6,409.2 L411.9,407.3 L412.1,405.9 L412.3,404.7 L412.6,403.4 L412.8,405.6 L413.0,404.0 L413.3,402.1 L413.5,403.1 L413.7,404.4 L414.0,402.9 L414.2,402.8 L414.4,401.9 L414.7,400.6 L414.9,401.7 L415.1,404.0 L415.4,401.4 L415.6,402.6 L415.8,405.4 L416.1,402.7 L416.3,404.5 L416.5,405.0 L416.8,405.4 L417.0,405.0 L417.2,407.9 L417.5,406.5 L417.7,407.3 L417.9,405.3 L418.2,406.7 L418.4,404.8 L418.6,407.1 L418.9,407.5 L419.1,405.9 L419.3,408.5 L419.6,406.6 L419.8,410.0 L420.0,409.9 L420.3,411.6 L420.5,412.9 L420.7,411.0 L421.0,409.9 L421.2,408.1 L421.4,408.7 L421.7,405.6 L421.9,405.9 L422.1,406.6 L422.4,402.4 L422.6,404.8 L422.8,401.1 L423.1,399.7 L423.3,400.3 L423.5,400.7 L423.8,399.5 L424.0,399.9 L424.2,398.5 L424.5,398.5 L424.7,397.6 L425.0,398.0 L425.2,402.1 L425.5,403.5 L425.7,407.0 L426.0,407.3 L426.2,406.5 L426.5,407.6 L426.7,410.7 L426.9,412.6 L427.2,411.7 L427.4,412.9 L427.6,414.3 L427.9,414.5 L428.1,414.6 L428.3,415.5 L428.6,416.7 L428.8,417.0 L429.0,412.8 L429.3,411.2 L429.5,410.2 L429.7,405.9 L430.0,404.2 L430.2,401.7 L430.4,400.4 L430.7,400.3 L430.9,400.9 L431.1,400.8 L431.4,401.1 L431.6,399.0 L431.8,399.6 L432.1,399.3 L432.3,400.5 L432.5,400.1 L432.8,401.5 L433.0,403.1 L433.2,404.3 L433.5,405.4 L433.7,405.0 L433.9,405.7 L434.2,406.3 L434.4,408.7 L434.6,408.0 L434.9,409.6 L435.1,409.2 L435.3,411.9 L435.6,411.3 L435.8,411.5 L436.0,410.2 L436.3,409.9 L436.5,407.7 L436.7,409.5 L437.0,408.9 L437.2,407.3 L437.4,405.6 L437.7,405.8 L437.9,403.0 L438.1,401.6 L438.4,400.5 L438.6,400.3 L438.8,397.6 L439.1,397.4 L439.3,396.0 L439.5,394.7 L439.8,390.8 L440.0,390.6 L440.3,390.2 L440.5,387.8 L440.8,386.0 L441.0,385.1 L441.3,383.7 L441.5,384.1 L441.8,384.0 L442.0,385.4 L442.2,387.0 L442.5,387.9 L442.7,387.8 L442.9,390.7 L443.2,389.5 L443.4,393.4 L443.6,394.5 L443.9,395.6 L444.1,396.2 L444.3,396.5 L444.6,392.1 L444.8,393.0 L445.0,392.0 L445.3,387.8 L445.5,387.8 L445.7,387.0 L446.0,387.1 L446.2,383.6 L446.4,384.5 L446.7,383.5 L446.9,380.9 L447.1,379.3 L447.4,376.8 L447.6,375.7 L447.8,376.5 L448.1,373.6 L448.3,372.5 L448.5,372.5 L448.8,373.7 L449.0,376.1 L449.2,374.4 L449.5,374.3 L449.7,376.7 L449.9,378.8 L450.2,377.0 L450.4,377.7 L450.6,380.3 L450.9,378.2 L451.1,379.5 L451.3,377.8 L451.6,380.4 L451.8,377.9 L452.0,377.6 L452.3,379.9 L452.5,378.1 L452.7,378.7 L453.0,382.8 L453.2,382.3 L453.4,383.9 L453.7,385.2 L453.9,387.8 L454.1,389.1 L454.4,390.3 L454.6,390.9 L454.8,392.5 L455.1,392.9 L455.3,394.8 L455.5,395.5 L455.8,395.4 L456.0,394.3 L456.2,394.1 L456.5,390.9 L456.7,392.0 L457.0,390.5 L457.2,389.8 L457.5,389.1 L457.7,391.4 L458.0,389.2 L458.2,389.5 L458.5,388.4 L458.7,386.0 L458.9,383.2 L459.2,383.2 L459.4,382.3 L459.6,379.1 L459.9,380.5 L460.1,376.6 L460.3,375.0 L460.6,375.7 L460.8,372.5 L461.0,372.8 L461.3,376.8 L461.5,376.0 L461.7,378.7 L462.0,378.1 L462.2,380.9 L462.4,383.0 L462.7,381.9 L462.9,382.4 L463.1,384.2 L463.4,384.7 L463.6,385.0 L463.8,383.4 L464.1,382.3 L464.3,383.3 L464.5,380.6 L464.8,383.0 L465.0,381.0 L465.3,379.9 L465.6,380.0 L465.9,378.0 L466.1,377.8 L466.4,376.2 L466.6,376.2 L466.9,376.2 L467.2,374.9 L467.4,373.9 L467.7,373.7 L467.9,372.3 L468.2,372.3 L468.4,372.6 L468.7,370.7 L468.9,371.2 L469.2,369.5 L469.4,367.5 L469.7,368.2 L470.0,366.8 L470.2,369.1 L470.5,367.6 L470.8,367.1 L471.0,367.4 L471.3,368.4 L471.5,366.5 L471.8,366.8 L472.1,365.3 L472.3,364.2 L472.6,361.9 L472.9,362.8 L473.1,361.5 L473.4,360.5 L473.6,359.3 L473.9,358.4 L474.1,357.4 L474.4,357.3 L474.6,354.5 L474.8,356.5 L475.1,352.4 L475.3,352.9 L475.5,351.4 L475.8,346.1 L476.0,344.5 L476.2,343.5 L476.5,339.5 L476.7,336.7 L476.9,336.3 L477.2,335.3 L477.4,332.0 L477.6,337.9 L477.9,342.6 L478.1,345.9 L478.3,350.9 L478.6,350.8 L478.8,355.2 L479.0,357.5 L479.3,363.1 L479.5,365.4 L479.7,364.3 L480.0,364.4 L480.2,363.7 L480.4,363.5 L480.7,361.4 L480.9,359.8 L481.1,361.6 L481.4,360.9 L481.6,359.7 L481.8,363.1 L482.1,360.7 L482.3,362.6 L482.6,359.7 L482.8,361.0 L483.1,357.6 L483.3,357.6 L483.6,354.0 L483.8,353.2 L484.1,353.7 L484.3,351.5 L484.5,346.8 L484.8,345.5 L485.0,344.0 L485.2,338.4 L485.5,337.2 L485.7,333.4 L485.9,335.9 L486.2,337.1 L486.4,339.2 L486.6,340.6 L486.9,339.7 L487.1,343.1 L487.3,342.2 L487.6,343.7 L487.8,345.5 L488.0,343.0 L488.3,344.6 L488.5,344.5 L488.7,341.3 L489.0,342.0 L489.2,338.8 L489.4,337.2 L489.7,335.9 L489.9,333.4 L490.1,330.0 L490.4,330.1 L490.6,328.2 L490.8,326.4 L491.1,322.2 L491.3,320.9 L491.5,320.6 L491.8,321.1 L492.0,324.4 L492.2,323.4 L492.5,323.9 L492.7,325.0 L492.9,327.2 L493.2,329.9 L493.4,330.6 L493.6,332.8 L493.9,336.5 L494.1,337.6 L494.3,336.3 L494.6,332.2 L494.8,329.1 L495.0,329.9 L495.3,326.8 L495.5,323.7 L495.7,323.1 L496.0,321.5 L496.2,322.6 L496.4,319.7 L496.7,318.0 L496.9,318.1 L497.1,315.5 L497.4,315.2 L497.6,315.0 L497.8,312.9 L498.1,313.9 L498.3,311.1 L498.5,310.3 L498.8,308.2 L499.0,307.5 L499.2,305.9 L499.5,304.6 L499.7,302.8 L500.0,299.2 L500.2,295.7 L500.5,292.0 L500.8,288.3 L501.0,285.8 L501.3,279.8 L501.6,278.2 L501.8,272.8 L502.1,269.8 L502.3,273.1 L502.6,272.3 L502.8,275.8 L503.0,277.7 L503.3,280.7 L503.5,282.0 L503.8,282.4 L504.0,284.1 L504.2,285.2 L504.5,288.0 L504.8,290.0 L505.0,291.8 L505.2,291.5 L505.5,295.0 L505.8,300.3 L506.1,306.9 L506.3,316.1 L506.6,320.9 L506.8,318.6 L507.1,316.9 L507.3,313.8 L507.5,313.1 L507.8,311.5 L508.0,308.3 L508.2,307.5 L508.5,303.7 L508.7,303.9 L508.9,302.7 L509.2,299.7 L509.4,300.0 L509.6,300.3 L509.9,297.8 L510.1,297.0 L510.3,297.0 L510.6,312.0 L510.8,326.0 L511.1,330.4 L511.3,334.1 L511.5,339.5 L511.8,342.3 L512.0,345.8 L512.3,350.4 L512.6,354.6 L512.8,362.1 L513.1,367.6 L513.4,364.8 L513.6,363.0 L513.9,360.0 L514.2,356.4 L514.4,354.2 L514.7,353.5 L514.9,350.1 L515.2,347.6 L515.4,348.2 L515.7,345.0 L515.9,342.5 L516.2,344.4 L516.5,349.0 L516.7,351.6 L517.0,354.0 L517.3,353.4 L517.5,356.8 L517.8,355.9 L518.1,359.6 L518.3,357.5 L518.6,359.7 L518.8,363.8 L519.1,368.5 L519.3,374.3 L519.6,382.3 L519.9,387.7 L520.2,392.5 L520.5,395.0 L520.8,392.2 L521.1,388.9 L521.4,393.2 L521.7,400.0 L522.0,397.7 L522.3,396.0 L522.6,403.7 L522.9,410.0 L523.2,404.9 L523.5,403.0 L523.8,409.0 L524.1,412.0 L524.4,407.2 L524.7,400.0 L525.0,405.6 L525.3,408.0 L525.6,403.4 L525.9,397.4 L526.2,402.1 L526.5,406.0 L526.7,405.4 L527.0,400.5 L527.2,399.0 L527.5,400.8 L527.8,404.0 L528.1,393.9 L528.4,386.5 L528.7,392.1 L529.0,400.0 L529.3,398.6 L529.6,395.0 L529.9,399.5 L530.2,407.0 L530.5,403.4 L530.8,398.0 L531.1,401.1 L531.4,405.0 L531.7,402.4 L532.0,397.0 L532.3,401.4 L532.6,404.0 L532.9,401.7 L533.2,398.0 L533.4,400.9 L533.7,399.7 L533.9,403.0 L534.2,399.2 L534.5,397.0 L534.8,398.5 L535.1,401.0 L535.4,395.9 L535.6,391.9 L535.9,386.5 L536.1,381.8 L536.4,375.2 L536.6,368.2 L536.8,367.0 L537.0,363.5 L537.3,359.5 L537.5,357.3 L537.7,357.0 L538.0,357.6 L538.2,357.5 L538.4,356.1 L538.6,358.7 L538.8,361.6 L539.1,365.6 L539.3,368.2 L539.6,370.3 L539.9,374.3 L540.1,375.2 L540.4,371.5 L540.6,373.4 L540.9,372.3 L541.1,371.9 L541.4,371.3 L541.6,373.1 L541.9,373.2 L542.1,375.5 L542.4,374.3 L542.7,379.9 L543.0,382.8 L543.2,383.9 L543.5,385.6 L543.7,386.4 L544.0,384.6 L544.2,386.5 L544.4,388.7 L544.7,389.7 L544.9,391.2 L545.2,391.4 L545.4,391.4 L545.6,391.7 L545.9,391.8 L546.1,394.1 L546.4,393.2 L546.6,395.0 L546.8,398.4 L547.1,400.1 L547.3,403.5 L547.6,404.2 L547.8,407.2 L548.1,404.3 L548.3,404.3 L548.6,401.2 L548.8,398.0 L549.1,396.2 L549.3,396.9 L549.6,396.9 L549.8,398.2 L550.1,398.2 L550.3,398.6 L550.5,399.3 L550.8,403.3 L551.0,404.4 L551.3,405.5 L551.5,406.0 L551.7,403.7 L552.0,401.9 L552.2,402.3 L552.4,400.0 L552.6,404.5 L552.8,407.1 L553.1,408.9 L553.3,413.2 L553.5,408.7 L553.8,402.6 L554.0,396.7 L554.3,392.2 L554.5,386.5 L554.7,382.9 L555.0,380.2 L555.2,377.2 L555.5,374.6 L555.7,369.5 L556.0,368.3 L556.2,370.2 L556.5,371.8 L556.7,371.0 L557.0,370.7 L557.2,374.1 L557.5,378.3 L557.7,378.5 L558.0,384.4 L558.2,386.5 L558.4,390.1 L558.7,393.1 L558.9,395.3 L559.2,399.6 L559.4,402.3 L559.6,399.3 L559.9,399.2 L560.1,396.6 L560.4,397.4 L560.6,395.3 L560.9,392.6 L561.1,391.5 L561.4,391.5 L561.6,389.1 L561.9,388.6 L562.1,386.2 L562.4,386.4 L562.7,387.4 L562.9,386.8 L563.2,386.5 L563.5,383.8 L563.7,386.2 L564.0,384.8 L564.2,382.3 L564.5,383.5 L564.7,382.4 L565.0,380.1 L565.2,380.6 L565.4,381.5 L565.7,379.8 L565.9,377.9 L566.2,378.9 L566.4,377.0 L566.7,378.0 L566.9,381.5 L567.2,381.3 L567.4,381.7 L567.7,386.5 L567.9,384.8 L568.2,387.9 L568.5,386.2 L568.7,387.3 L569.0,384.2 L569.2,385.0 L569.5,385.3 L569.8,383.6 L570.0,381.9 L570.3,381.7 L570.5,381.6 L570.8,380.8 L571.0,378.8 L571.3,378.0 L571.5,375.8 L571.8,375.4 L572.1,374.6 L572.3,376.1 L572.6,375.5 L572.9,371.5 L573.1,371.7 L573.4,372.3 L573.6,370.7 L573.9,372.1 L574.1,369.3 L574.4,368.6 L574.6,370.1 L574.8,367.3 L575.1,369.6 L575.3,367.1 L575.6,368.1 L575.8,366.0 L576.0,366.9 L576.3,364.4 L576.5,366.2 L576.8,364.6 L577.0,363.7 L577.3,364.4 L577.6,363.5 L577.8,366.7 L578.1,367.0 L578.4,366.8 L578.6,369.5 L578.9,369.1 L579.2,367.3 L579.5,367.4 L579.7,365.4 L580.0,366.1 L580.2,366.3 L580.5,369.0 L580.7,368.3 L581.0,367.8 L581.2,368.9 L581.5,371.1 L581.7,371.3 L581.9,371.5 L582.2,374.7 L582.4,372.8 L582.6,376.7 L582.9,376.8 L583.1,377.4 L583.3,375.6 L583.6,371.0 L583.8,367.0 L584.1,364.4 L584.3,362.6 L584.6,362.3 L584.8,359.4 L585.1,359.0 L585.3,360.6 L585.6,360.2 L585.8,359.4 L586.1,357.4 L586.3,357.2 L586.6,354.9 L586.8,354.6 L587.1,352.6 L587.3,350.7 L587.6,348.9 L587.8,347.8 L588.0,348.9 L588.2,352.0 L588.5,355.4 L588.7,359.1 L588.9,362.0 L589.2,363.8 L589.4,369.9 L589.6,371.3 L589.8,374.4 L590.1,377.7 L590.3,381.1 L590.6,381.4 L590.8,385.2 L591.0,391.4 L591.3,396.4 L591.5,398.7 L591.8,404.3 L592.0,405.9 L592.3,411.2 L592.5,413.0 L592.8,420.5 L593.0,425.2 L593.3,428.9 L593.6,430.4 L593.8,423.7 L594.1,418.0 L594.3,411.3 L594.5,407.6 L594.8,405.7 L595.0,404.1 L595.2,402.9 L595.5,398.2 L595.7,397.4 L596.0,400.7 L596.2,399.2 L596.5,404.3 L596.7,403.4 L597.0,406.1 L597.3,405.8 L597.5,404.4 L597.8,403.5 L598.0,400.4 L598.3,399.1 L598.5,398.8 L598.8,396.4 L599.0,397.3 L599.3,393.7 L599.5,395.6 L599.8,393.5 L600.0,392.2 L600.2,389.6 L600.5,391.8 L600.7,388.5 L601.0,386.6 L601.2,386.3 L601.5,384.5 L601.7,385.2 L601.9,385.6 L602.2,388.3 L602.4,390.5 L602.6,390.3 L602.9,392.3 L603.1,392.2 L603.3,388.1 L603.6,382.5 L603.8,376.1 L604.1,370.4 L604.3,366.1 L604.5,362.7 L604.8,361.9 L605.0,358.5 L605.2,357.4 L605.4,356.5 L605.7,353.2 L605.9,352.0 L606.1,345.0 L606.4,337.5 L606.6,330.0 L606.8,323.8 L607.1,315.4 L607.3,310.0 L607.5,304.1 L607.8,300.0 L608.0,297.7 L608.3,293.0 L608.5,291.0 L608.8,290.1 L609.0,289.7 L609.2,286.1 L609.5,285.0 L609.8,282.0 L610.0,276.1 L610.3,271.0 L610.5,269.6 L610.8,265.1 L611.0,262.0 L611.3,242.5 L611.5,241.3 L611.8,239.0 L612.0,235.2 L612.2,234.2 L612.5,232.4 L612.7,230.0 L613.0,216.5 L613.2,203.9 L613.5,190.0 L613.8,181.5 L614.0,171.1 L614.3,160.0 L614.5,154.3 L614.8,145.0 L615.0,140.2 L615.2,132.6 L615.4,146.8 L615.6,160.0 L615.2,200.0 L615.1,250.0 L615.4,267.1 L615.6,281.0 L615.8,289.2 L616.1,299.8 L616.3,311.0 L616.5,305.3 L616.8,295.7 L617.0,289.5 L617.3,281.4 L617.5,282.5 L617.8,282.5 L618.0,283.3 L618.3,284.5 L618.5,285.0 L618.7,294.1 L619.0,299.9 L619.2,308.2 L619.4,314.5 L619.6,314.1 L619.9,315.9 L620.1,315.8 L620.3,316.6 L620.6,317.4 L620.8,316.3 L621.0,320.6 L621.3,329.6 L621.5,333.7 L621.8,330.6 L622.0,325.9 L622.3,323.1 L622.6,319.8 L622.8,314.8 L623.1,311.8 L623.3,310.5 L623.6,306.6 L623.8,302.3 L624.0,292.5 L624.3,280.0 L624.5,277.8 L624.8,276.6 L625.0,276.6 L625.2,276.0 L625.5,271.3 L625.7,267.4 L626.0,262.0 L626.2,245.8 L626.5,231.9 L626.7,215.6 L626.9,210.3 L627.2,203.7 L627.4,199.9 L627.7,191.8 L627.9,188.1 L628.2,181.0 L628.4,176.6 L628.7,177.8 L628.9,182.1 L629.2,185.0 L629.4,180.5 L629.7,176.3 L629.9,170.9 L630.1,166.8 L630.3,172.1 L630.5,175.4 L630.8,177.0 L631.0,182.0 L631.3,174.2 L631.6,170.0 L631.8,174.7 L632.0,176.0 L632.3,219.9 L632.6,264.4 L632.9,225.8 L633.1,190.0 L633.4,182.8 L633.6,178.0 L633.9,187.2 L634.2,195.0 L634.5,182.3 L634.8,172.0 L635.1,160.5 L635.4,150.0 L635.7,138.0 L636.0,128.1 L636.2,117.0 L636.5,125.5 L636.8,135.0 L637.0,128.1 L637.3,120.0 L637.5,129.6 L637.8,136.0 L638.1,124.6 L638.4,111.0 L638.6,120.0 L638.9,128.0 L639.1,161.3 L639.4,193.7 L639.6,171.2 L639.9,150.0 L640.1,134.5 L640.4,118.0 L640.7,126.5 L641.0,134.0 L641.2,125.3 L641.5,116.0 L641.8,122.0 L642.0,128.0 L642.2,122.6 L642.5,114.3 L642.7,109.0 L642.9,100.4 L643.1,90.3 L643.4,84.4" fill="none" stroke="#000" stroke-width="3.0" stroke-linejoin="round" stroke-linecap="round"/>
<circle cx="643.4" cy="84.4" r="3.9" fill="#e8101a"/>
<line x1="39" y1="523.7" x2="129.7" y2="523.7" stroke="#505050" stroke-width="2.6"/>
<line x1="140.1" y1="523.7" x2="198" y2="523.7" stroke="#505050" stroke-width="2.6"/>
<circle cx="200.3" cy="523.3" r="3.1" fill="#e8101a"/>
<circle cx="203.3" cy="506.9" r="3" fill="#bbb" stroke="#777" stroke-width="1"/><text x="203.3" y="509" font-size="5.5" font-weight="bold" text-anchor="middle" fill="#444" font-family="Liberation Sans">R</text>
</svg>
<div class="date">08-Apr-21</div>
<div class="title">CME Lumber (1st Nearby)</div>
<div class="sub">1,106.40&nbsp; <span style="font-size:19px;letter-spacing:0">/</span>&nbsp; +2.98%</div>
<div class="yl" style="top:36.1px">1,200.00</div><div class="yl" style="top:118.0px">1,000.00</div><div class="yl" style="top:199.9px">800.00</div><div class="yl" style="top:281.8px">600.00</div><div class="yl" style="top:363.8px">400.00</div><div class="yl" style="top:445.7px">200.00</div><div class="yl" style="top:527.6px">0.00</div>
<div class="xl" style="left:8.5px">'08</div><div class="xl" style="left:51.3px">'09</div><div class="xl" style="left:99.8px">'10</div><div class="xl" style="left:148.3px">'11</div><div class="xl" style="left:196.9px">'12</div><div class="xl" style="left:245.4px">'13</div><div class="xl" style="left:294.0px">'14</div><div class="xl" style="left:342.5px">'15</div><div class="xl" style="left:391.0px">'16</div><div class="xl" style="left:439.6px">'17</div><div class="xl" style="left:488.1px">'18</div><div class="xl" style="left:536.7px">'19</div><div class="xl" style="left:585.2px">'20</div>
<div class="lw" style="left:38.5px;transform:scaleX(1.1);transform-origin:0 0">The</div><div class="lw" style="left:87px;letter-spacing:0.4px">Daily</div><div class="lw" style="left:148px;transform:scaleX(1.05);transform-origin:0 0">Shot</div>
</body></html>
